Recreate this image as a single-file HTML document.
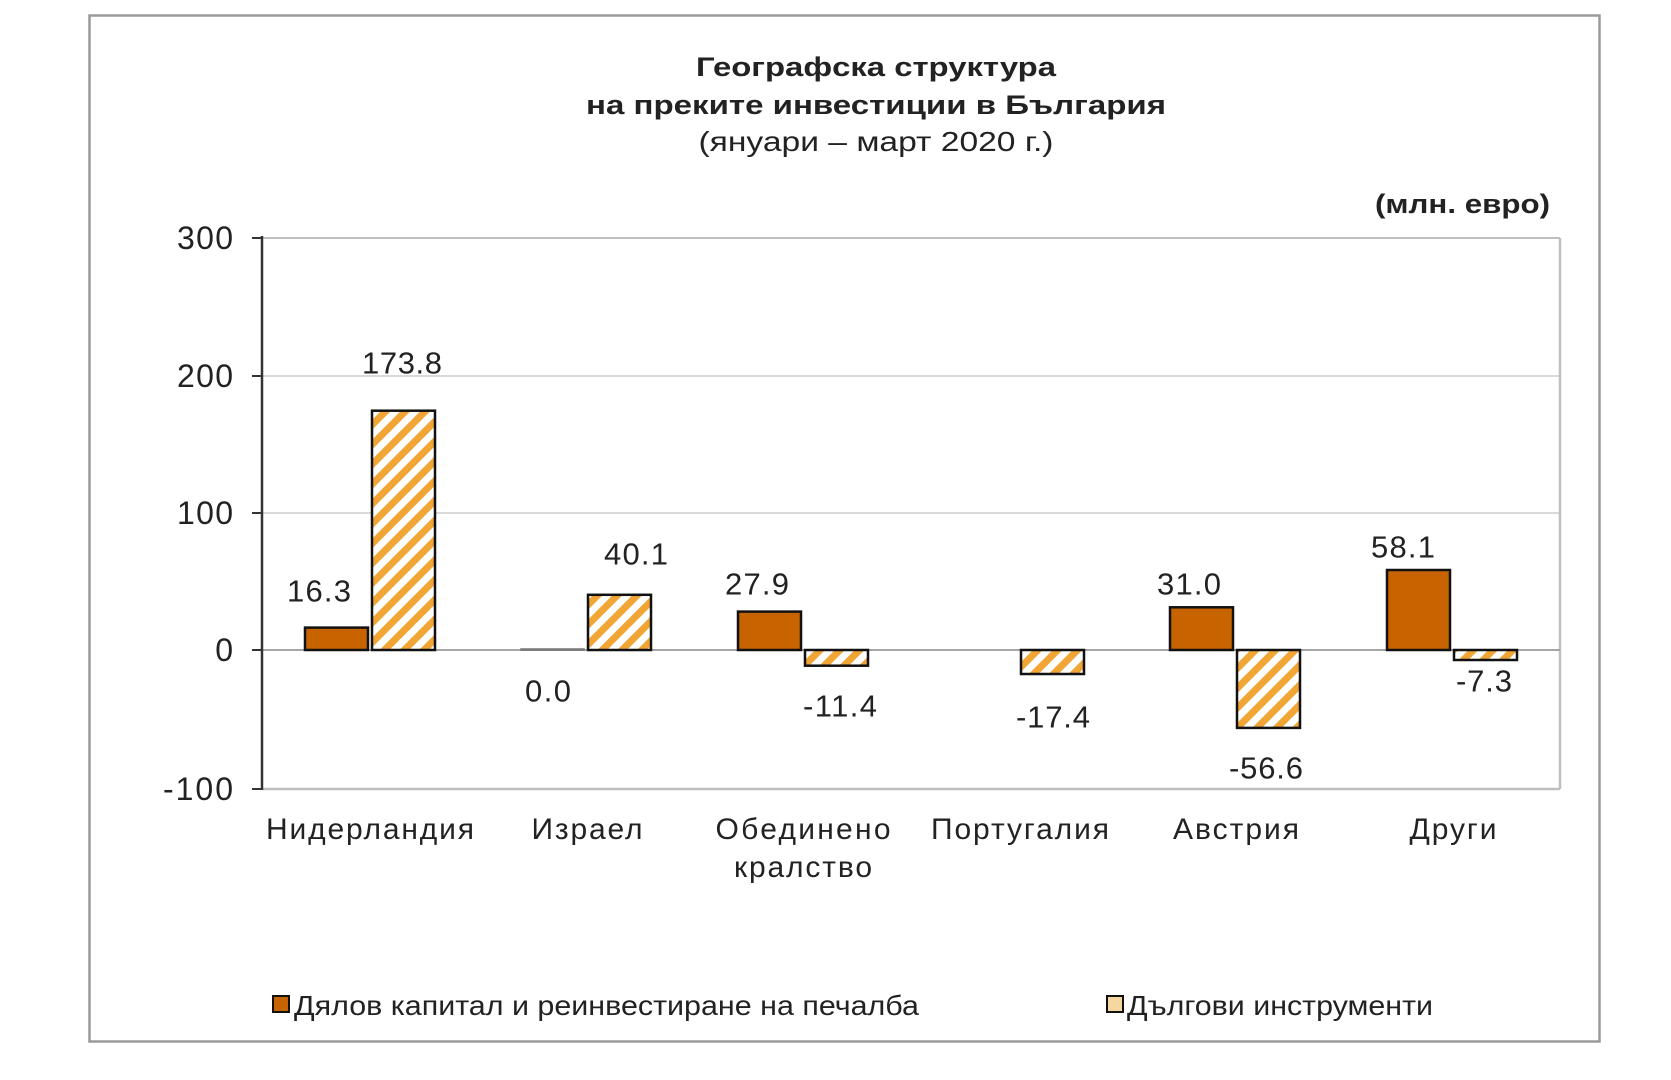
<!DOCTYPE html>
<html><head><meta charset="utf-8"><style>
html,body{margin:0;padding:0;background:#fff;}
svg{display:block;}
text{font-family:"Liberation Sans","DejaVu Sans",sans-serif;fill:#222;}
</style></head><body>
<svg width="1671" height="1080" viewBox="0 0 1671 1080" xmlns="http://www.w3.org/2000/svg">
<defs>
<pattern id="h" patternUnits="userSpaceOnUse" width="14" height="14" patternTransform="rotate(45)">
<rect width="14" height="14" fill="#fff"/>
<rect x="0" y="0" width="7" height="14" fill="#F0A535"/>
</pattern>
</defs>
<rect x="89.5" y="15.5" width="1510" height="1026" fill="#fff" stroke="#9a9a9a" stroke-width="2.5"/>
<g text-anchor="middle">
<text x="876" y="76" font-size="27" font-weight="bold" textLength="360" lengthAdjust="spacingAndGlyphs">Географска структура</text>
<text x="876" y="114" font-size="27" font-weight="bold" textLength="580" lengthAdjust="spacingAndGlyphs">на преките инвестиции в България</text>
<text x="876" y="151" font-size="28" textLength="355" lengthAdjust="spacingAndGlyphs">(януари – март 2020 г.)</text>
</g>
<text x="1550" y="213" font-size="27" font-weight="bold" text-anchor="end" textLength="175" lengthAdjust="spacingAndGlyphs">(млн. евро)</text>
<g stroke="#d9d9d9" stroke-width="2">
<line x1="262" y1="376" x2="1560" y2="376"/>
<line x1="262" y1="513" x2="1560" y2="513"/>
</g>
<line x1="262" y1="238" x2="1560" y2="238" stroke="#bfbfbf" stroke-width="2"/>
<line x1="1560" y1="238" x2="1560" y2="789" stroke="#bfbfbf" stroke-width="2.5"/>
<line x1="262" y1="789" x2="1560" y2="789" stroke="#bfbfbf" stroke-width="2.5"/>
<line x1="262" y1="650" x2="1560" y2="650" stroke="#a6a6a6" stroke-width="2"/>
<line x1="262" y1="236" x2="262" y2="790" stroke="#333" stroke-width="2.5"/>
<g stroke="#333" stroke-width="2">
<line x1="252" y1="238" x2="262" y2="238"/><line x1="252" y1="376" x2="262" y2="376"/>
<line x1="252" y1="513" x2="262" y2="513"/><line x1="252" y1="650" x2="262" y2="650"/>
<line x1="252" y1="789" x2="262" y2="789"/>
</g>
<g font-size="32" text-anchor="end" lengthAdjust="spacingAndGlyphs">
<text x="233" y="249" textLength="56">300</text><text x="233" y="387" textLength="56">200</text><text x="233" y="524" textLength="56">100</text>
<text x="233" y="661">0</text><text x="233" y="800" textLength="70">-100</text>
</g>
<g stroke="#111" stroke-width="2.5">
<rect x="305" y="627.6" width="63" height="22.4" fill="#C86400"/>
<rect x="372" y="410.7" width="63" height="239.3" fill="url(#h)"/>
<rect x="521" y="649" width="63" height="1" fill="#C86400" stroke="#777" stroke-width="1.5"/>
<rect x="588" y="594.8" width="63" height="55.2" fill="url(#h)"/>
<rect x="738" y="611.6" width="63" height="38.4" fill="#C86400"/>
<rect x="805" y="650" width="63" height="15.7" fill="url(#h)"/>
<rect x="1021" y="650" width="63" height="24" fill="url(#h)"/>
<rect x="1170" y="607.3" width="63" height="42.7" fill="#C86400"/>
<rect x="1237" y="650" width="63" height="77.9" fill="url(#h)"/>
<rect x="1387" y="570" width="63" height="80" fill="#C86400"/>
<rect x="1454" y="650" width="63" height="10" fill="url(#h)"/>
</g>
<g font-size="31" text-anchor="middle" dominant-baseline="central" lengthAdjust="spacingAndGlyphs">
<text x="319" y="591" textLength="64">16.3</text><text x="402" y="363" textLength="80">173.8</text>
<text x="548" y="691" textLength="46">0.0</text><text x="636" y="554" textLength="64">40.1</text>
<text x="757" y="584" textLength="64">27.9</text><text x="840" y="706" textLength="74">-11.4</text>
<text x="1053" y="717" textLength="74">-17.4</text><text x="1189" y="584" textLength="64">31.0</text>
<text x="1266" y="768" textLength="74">-56.6</text><text x="1403" y="547" textLength="64">58.1</text>
<text x="1484" y="681" textLength="56">-7.3</text>
</g>
<g font-size="30" text-anchor="middle" lengthAdjust="spacingAndGlyphs">
<text x="370" y="839" textLength="208">Нидерландия</text>
<text x="587" y="839" textLength="111">Израел</text>
<text x="803" y="839" textLength="175">Обединено</text>
<text x="803" y="877" textLength="138">кралство</text>
<text x="1020" y="839" textLength="178">Португалия</text>
<text x="1236" y="839" textLength="126">Австрия</text>
<text x="1453" y="839" textLength="87">Други</text>
</g>
<rect x="273" y="996" width="16" height="16" fill="#C86400" stroke="#111" stroke-width="2"/>
<text x="294" y="1015" font-size="28" textLength="625" lengthAdjust="spacingAndGlyphs">Дялов капитал и реинвестиране на печалба</text>
<rect x="1107" y="996" width="16" height="16" fill="#F6D7A0" stroke="#111" stroke-width="2"/>
<text x="1127" y="1015" font-size="28" textLength="306" lengthAdjust="spacingAndGlyphs">Дългови инструменти</text>
</svg>
</body></html>
